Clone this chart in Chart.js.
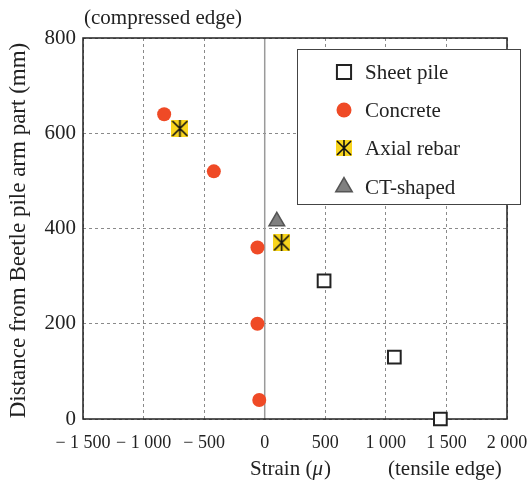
<!DOCTYPE html>
<html>
<head>
    <title>Strain distribution</title>
    <script src="https://cdn.jsdelivr.net/npm/chart.js@4.4.1/dist/chart.umd.min.js"></script>
    <style>
        html, body { margin: 0; padding: 0; background: #fff; }
        #wrap { width: 529px; height: 485px; }
    </style>
</head>
<body>
    <div id="wrap"><canvas id="myChart" width="529" height="485"></canvas></div>
    <script>
        // data
        var xTickValues = [-1500, -1000, -500, 0, 500, 1000, 1500, 2000];
        var yTickValues = [0, 200, 400, 600, 800];

        var sheetPileStrain = [490, 1070, 1450];
        var sheetPileDepth = [290, 130, 0];

        var concreteStrain = [-830, -420, -60, -60, -45];
        var concreteDepth = [640, 520, 360, 200, 40];

        var rebarStrain = [-700, 140];
        var rebarDepth = [610, 370];

        var ctStrain = [100];
        var ctDepth = [415];

        var seriesNames = ['Sheet pile', 'Concrete', 'Axial rebar', 'CT-shaped'];

        var FONT = '"Liberation Serif", "DejaVu Serif", serif';

        function toPoints(xs, ys) {
            var pts = [];
            for (var i = 0; i < xs.length; i++) pts.push({ x: xs[i], y: ys[i] });
            return pts;
        }

        // yellow box with a black asterisk for the rebar marker
        function makeRebarIcon(size) {
            var c = document.createElement('canvas');
            c.width = size; c.height = size;
            var g = c.getContext('2d');
            g.fillStyle = '#F8D41C';
            g.fillRect(0, 0, size, size);
            g.strokeStyle = '#111';
            g.lineWidth = 1.6;
            g.beginPath();
            g.moveTo(size / 2, 0); g.lineTo(size / 2, size);
            g.moveTo(1, 1); g.lineTo(size - 1, size - 1);
            g.moveTo(size - 1, 1); g.lineTo(1, size - 1);
            g.stroke();
            return c;
        }
        var rebarIcon = makeRebarIcon(17);
        var rebarIconLegend = makeRebarIcon(16);

        function fmtTick(v) {
            var a = Math.abs(v);
            var s = a >= 1000 ? Math.floor(a / 1000) + ' ' + String(a % 1000).padStart(3, '0') : String(a);
            return v < 0 ? '\u2212 ' + s : s;
        }

        var data = {
            datasets: [{
                label: seriesNames[0],
                data: toPoints(sheetPileStrain, sheetPileDepth),
                pointStyle: 'rect',
                pointRadius: 9,
                backgroundColor: '#ffffff',
                borderColor: '#222222',
                borderWidth: 2,
                clip: false
            }, {
                label: seriesNames[1],
                data: toPoints(concreteStrain, concreteDepth),
                pointStyle: 'circle',
                pointRadius: 7,
                backgroundColor: '#EF4A26',
                borderColor: '#EF4A26',
                borderWidth: 0,
                clip: false
            }, {
                label: seriesNames[2],
                data: toPoints(rebarStrain, rebarDepth),
                pointStyle: rebarIcon,
                pointRadius: 9,
                clip: false
            }, {
                label: seriesNames[3],
                data: toPoints(ctStrain, ctDepth),
                pointStyle: 'triangle',
                pointRadius: 9,
                backgroundColor: '#808080',
                borderColor: '#555555',
                borderWidth: 1.5,
                clip: false
            }]
        };

        // frame, zero line, titles and the boxed legend
        var decorPlugin = {
            id: 'decor',
            beforeDatasetsDraw: function (chart) {
                var ctx = chart.ctx, a = chart.chartArea;
                var x0 = chart.scales.x.getPixelForValue(0);
                ctx.save();
                ctx.strokeStyle = '#9a9a9a';
                ctx.lineWidth = 1.5;
                ctx.beginPath();
                ctx.moveTo(x0, a.top); ctx.lineTo(x0, a.bottom);
                ctx.stroke();
                ctx.strokeStyle = '#222';
                ctx.lineWidth = 1.5;
                ctx.strokeRect(a.left, a.top, a.right - a.left, a.bottom - a.top);
                ctx.restore();
            },
            afterDraw: function (chart) {
                var ctx = chart.ctx, a = chart.chartArea;
                ctx.save();
                ctx.fillStyle = '#222';
                ctx.textBaseline = 'alphabetic';
                ctx.textAlign = 'left';
                ctx.font = '21px ' + FONT;
                ctx.fillText('(compressed edge)', 84, 24);
                ctx.fillText('(tensile edge)', 388, 475);

                // "Strain (μ)" with italic mu
                var x = 250;
                ctx.fillText('Strain (', x, 475);
                x += ctx.measureText('Strain (').width;
                ctx.font = 'italic 21px ' + FONT;
                ctx.fillText('\u03BC', x, 475);
                x += ctx.measureText('\u03BC').width + 1;
                ctx.font = '21px ' + FONT;
                ctx.fillText(')', x, 475);

                // y title
                ctx.save();
                ctx.translate(19, (a.top + a.bottom) / 2 + 2);
                ctx.rotate(-Math.PI / 2);
                ctx.textAlign = 'center';
                ctx.textBaseline = 'middle';
                ctx.font = '23px ' + FONT;
                ctx.fillText('Distance from Beetle pile arm part (mm)', 0, 0);
                ctx.restore();

                // legend box
                var bx = 297, by = 49, bw = 223, bh = 155;
                ctx.fillStyle = '#fff';
                ctx.fillRect(bx, by, bw, bh);
                ctx.strokeStyle = '#444';
                ctx.lineWidth = 1;
                ctx.strokeRect(bx + 0.5, by + 0.5, bw, bh);
                var rows = [72, 110, 148, 187];
                chart.data.datasets.forEach(function (ds, i) {
                    var my = rows[i];
                    ctx.fillStyle = ds.backgroundColor || '#000';
                    ctx.strokeStyle = ds.borderColor || '#000';
                    ctx.lineWidth = ds.borderWidth || 0;
                    var style = i === 2 ? rebarIconLegend : ds.pointStyle;
                    Chart.helpers.drawPoint(ctx, {
                        pointStyle: style,
                        radius: i === 0 ? 10 : (i === 1 ? 7.5 : 9.5),
                        rotation: 0,
                        borderWidth: ds.borderWidth || 0
                    }, 344, my);
                    ctx.fillStyle = '#222';
                    ctx.font = '21px ' + FONT;
                    ctx.textAlign = 'left';
                    ctx.textBaseline = 'middle';
                    ctx.fillText(ds.label, 365, my + 1);
                });
                ctx.restore();
            }
        };

        var config = {
            type: 'scatter',
            data: data,
            options: {
                responsive: false,
                animation: false,
                layout: { padding: { top: 38, right: 22, left: 0, bottom: 0 } },
                plugins: {
                    legend: { display: false },
                    tooltip: { enabled: false }
                },
                scales: {
                    x: {
                        type: 'linear',
                        min: -1500,
                        max: 2000,
                        afterFit: function (s) { s.height = 66; s.paddingLeft = 0; s.paddingRight = 0; },
                        afterBuildTicks: function (s) {
                            s.ticks = xTickValues.map(function (v) { return { value: v }; });
                        },
                        ticks: {
                            padding: 13,
                            color: '#222',
                            font: { family: FONT, size: 18 },
                            maxRotation: 0,
                            autoSkip: false,
                            callback: function (v) { return fmtTick(v); }
                        },
                        grid: {
                            drawTicks: false,
                            color: function (c) { return c.tick && c.tick.value === 0 ? 'rgba(0,0,0,0)' : '#8a8a8a'; },
                            lineWidth: 1
                        },
                        border: { display: false, dash: [3, 3] }
                    },
                    y: {
                        min: 0,
                        max: 800,
                        afterFit: function (s) { s.width = 83; s.paddingTop = 0; s.paddingBottom = 0; },
                        afterBuildTicks: function (s) {
                            s.ticks = yTickValues.map(function (v) { return { value: v }; });
                        },
                        ticks: {
                            padding: 7,
                            color: '#222',
                            font: { family: FONT, size: 21 }
                        },
                        grid: {
                            drawTicks: false,
                            color: '#8a8a8a',
                            lineWidth: 1
                        },
                        border: { display: false, dash: [3, 3] }
                    }
                }
            },
            plugins: [decorPlugin]
        };

        var myChart = new Chart(document.getElementById('myChart').getContext('2d'), config);
    </script>
</body>
</html>
